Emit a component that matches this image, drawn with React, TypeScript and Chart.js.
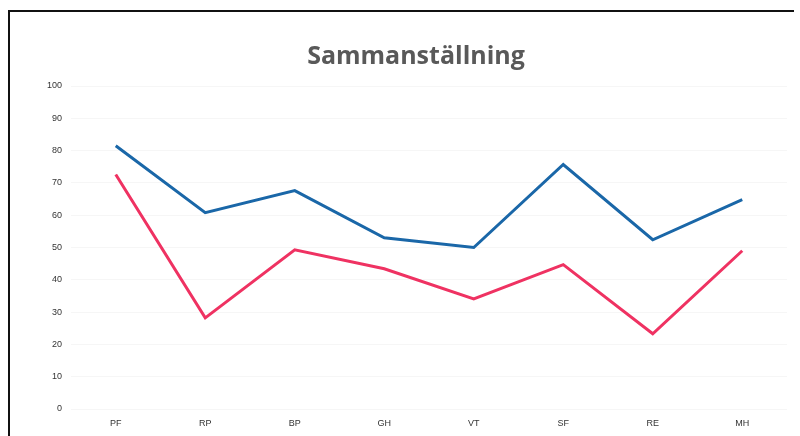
import React, { useEffect, useRef } from "react";
import { Chart, registerables } from "chart.js";

Chart.register(...registerables);

const categories = ["PF", "RP", "BP", "GH", "VT", "SF", "RE", "MH"];
const seriesBlue = [81.5, 60.8, 67.6, 53, 50, 75.7, 52.4, 64.8];
const seriesRed = [72.6, 28.2, 49.3, 43.4, 34.1, 44.7, 23.3, 49];
const titleText = "Sammanställning";

export default function App() {
  const ref = useRef<HTMLCanvasElement>(null);

  useEffect(() => {
    document.body.style.margin = "0";
    const ctx = ref.current!.getContext("2d")!;
    const chart = new Chart(ctx, {
      type: "line",
      data: {
        labels: categories,
        datasets: [
          {
            data: seriesBlue,
            borderColor: "#1a67a8",
            borderWidth: 3,
            pointRadius: 0,
            tension: 0,
          },
          {
            data: seriesRed,
            borderColor: "#ef3262",
            borderWidth: 3,
            pointRadius: 0,
            tension: 0,
          },
        ],
      },
      options: {
        animation: false,
        responsive: false,
        layout: { padding: { left: 45, right: 13, top: 0, bottom: 0 } },
        plugins: {
          legend: { display: false },
          tooltip: { enabled: false },
          title: {
            display: true,
            text: titleText,
            color: "#595959",
            font: { family: "Open Sans", size: 25, weight: "bold" },
            padding: { top: 42, bottom: 14 },
          },
        },
        scales: {
          x: {
            offset: true,
            grid: { display: false, drawTicks: false },
            border: { display: false },
            ticks: {
              padding: 9,
              color: "#333",
              font: { family: "Liberation Sans", size: 9 },
            },
            afterFit: (s: any) => {
              s.height = 27;
            },
          },
          y: {
            min: 0,
            max: 100,
            grid: { color: "rgba(0,0,0,0.035)", drawTicks: false },
            border: { display: false },
            ticks: {
              stepSize: 10,
              padding: 9,
              color: "#333",
              font: { family: "Liberation Sans", size: 9 },
            },
            afterFit: (s: any) => {
              s.width = 26;
            },
          },
        },
      },
    });
    return () => chart.destroy();
  }, []);

  return (
    <div style={{ position: "relative", width: 800, height: 436, background: "#fff" }}>
      <canvas ref={ref} width={800} height={436} style={{ display: "block" }} />
      <div
        style={{
          position: "absolute",
          left: 8,
          top: 10,
          width: 784,
          height: 426,
          borderLeft: "2px solid #111",
          borderTop: "2px solid #111",
          pointerEvents: "none",
        }}
      />
    </div>
  );
}
